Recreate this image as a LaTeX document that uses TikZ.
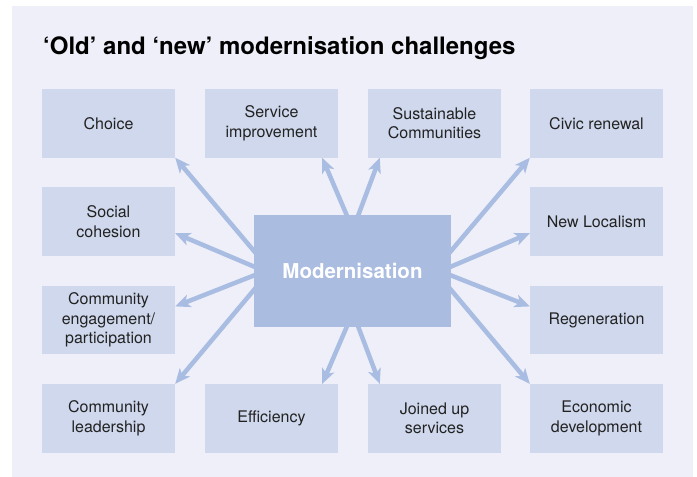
\documentclass[tikz,border=0pt]{standalone}
\usepackage{fontspec}
\setmainfont{TeX Gyre Heros}
\usetikzlibrary{calc,arrows.meta}
\definecolor{panelbg}{HTML}{EEEFF8}
\definecolor{boxfill}{HTML}{CFD8EC}
\definecolor{hubfill}{HTML}{AABCE0}
\definecolor{arrowcol}{HTML}{A9BCE1}
\definecolor{labeltext}{HTML}{222222}
\pgfdeclarelayer{back}
\pgfdeclarelayer{mid}
\pgfsetlayers{back,mid,main}
\begin{document}
\begin{tikzpicture}[x=1pt,y=-1pt,
  topic/.style={fill=boxfill, draw=none, minimum width=133pt, minimum height=68.5pt,
    inner sep=0pt, align=center, text=labeltext, font=\fontsize{16}{19.5}\selectfont},
  hub/.style={fill=hubfill, draw=none, minimum width=197pt, minimum height=112pt,
    inner sep=0pt, text=white, font=\fontsize{20.5}{24}\selectfont\bfseries},
  spoke/.style={draw=arrowcol, line width=4.5pt, shorten <=-8pt,
    -{Stealth[length=15pt,width=13pt,inset=4pt]}}
]
\useasboundingbox (0,0) rectangle (697,477);
\begin{pgfonlayer}{back}
  \fill[white] (0,0) rectangle (697,477);
  \fill[panelbg] (12,6) rectangle (692.7,477);
\end{pgfonlayer}

% title
\node[anchor=base west, inner sep=0pt, font=\fontsize{24}{28}\selectfont\bfseries] (title)
  at (43,54) {‘Old’ and ‘new’ modernisation challenges};

% central hub
\node[hub] (hub) at (352.5,271) {Modernisation};

% surrounding topics
\node[topic] (choice)  at (108.5,123.3) {Choice};
\node[topic] (service) at (271.5,123.3) {Service\\improvement};
\node[topic] (sustain) at (434.5,123.3) {Sustainable\\Communities};
\node[topic] (civic)   at (596.5,123.3) {Civic renewal};

\node[topic] (social)  at (108.5,221.5) {Social\\cohesion};
\node[topic] (newloc)  at (596.5,221.5) {New Localism};

\node[topic] (engage)  at (108.5,320.2) {Community\\engagement/\\participation};
\node[topic] (regen)   at (596.5,320.2) {Regeneration};

\node[topic] (lead)    at (108.5,418.3) {Community\\leadership};
\node[topic] (effic)   at (271.5,418.3) {Efficiency};
\node[topic] (joined)  at (434.5,418.3) {Joined up\\services};
\node[topic] (econ)    at (596.5,418.3) {Economic\\development};

% spokes from the hub
\begin{pgfonlayer}{mid}
  \draw[spoke] ($(hub.north west)!0.32!(hub.south west)$) -- (choice.south east);
  \draw[spoke] ($(hub.north west)!0.46!(hub.south west)$) -- ($(social.north east)!0.67!(social.south east)$);
  \draw[spoke] ($(hub.north west)!0.54!(hub.south west)$) -- ($(engage.north east)!0.30!(engage.south east)$);
  \draw[spoke] ($(hub.north west)!0.67!(hub.south west)$) -- (lead.north east);

  \draw[spoke] ($(hub.north east)!0.32!(hub.south east)$) -- (civic.south west);
  \draw[spoke] ($(hub.north east)!0.46!(hub.south east)$) -- ($(newloc.north west)!0.67!(newloc.south west)$);
  \draw[spoke] ($(hub.north east)!0.54!(hub.south east)$) -- ($(regen.north west)!0.30!(regen.south west)$);
  \draw[spoke] ($(hub.north east)!0.67!(hub.south east)$) -- (econ.north west);

  \draw[spoke] ($(hub.north west)!0.47!(hub.north east)$) -- ($(service.south west)!0.88!(service.south east)$);
  \draw[spoke] ($(hub.north west)!0.53!(hub.north east)$) -- ($(sustain.south west)!0.09!(sustain.south east)$);
  \draw[spoke] ($(hub.south west)!0.47!(hub.south east)$) -- ($(effic.north west)!0.88!(effic.north east)$);
  \draw[spoke] ($(hub.south west)!0.53!(hub.south east)$) -- ($(joined.north west)!0.09!(joined.north east)$);
\end{pgfonlayer}
\end{tikzpicture}
\end{document}
